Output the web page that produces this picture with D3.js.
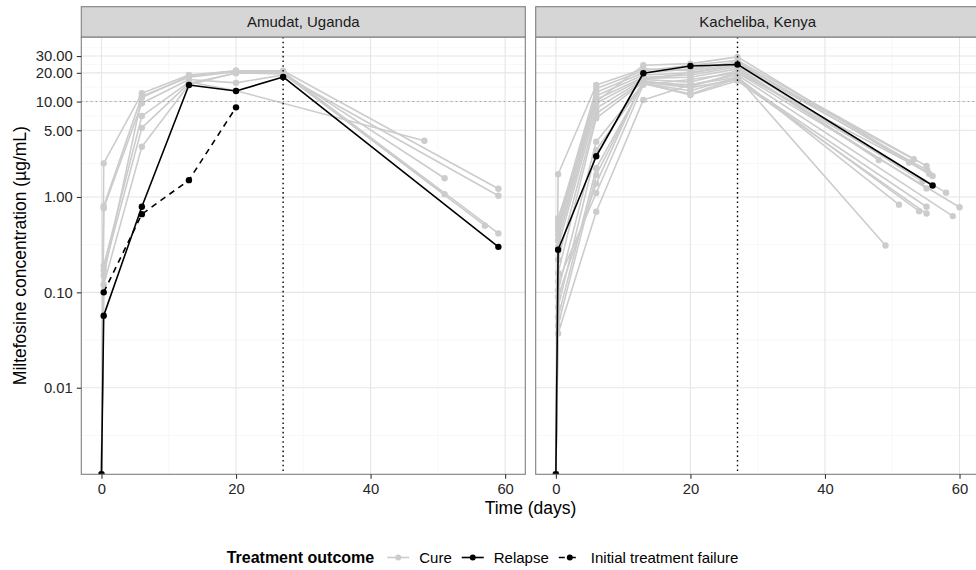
<!DOCTYPE html>
<html>
<head>
<meta charset="utf-8">
<script src="https://cdn.jsdelivr.net/npm/d3@7"></script>
<style>
  body { margin: 0; background: #ffffff; }
  text { font-family: "Liberation Sans", Arial, Helvetica, sans-serif; }
</style>
</head>
<body>
<svg id="chart" width="976" height="570"></svg>
<script>
// ---- Data -----------------------------------------------------------------
const sites = ["Amudat, Uganda", "Kacheliba, Kenya"];
const outcomes = ["Cure", "Relapse", "Initial treatment failure"];

// Common sampling schedule (days); 0 = pre-dose, 0.33 = a few hours post-dose
const sampleDays = [0, 0.33, 6, 13, 20, 27];

// Concentrations (µg/mL) at each scheduled day (null = not sampled),
// followed by the last follow-up sample [day, concentration].
const amudatCure = [
  { conc: [0, 2.25, 12.2, 19.0, 21.0, 21.0], end: [59, 1.22] },
  { conc: [0, 0.80, 11.4, 18.0, 20.5, 20.0], end: [51, 1.57] },
  { conc: [0, 0.76, 9.6, 17.0, 15.7, 19.0], end: [59, 1.03] },
  { conc: [0, 0.19, 7.05, 16.0, 13.0, null], end: [48, 3.88] },
  { conc: [0, 0.17, 5.3, 15.5, 19.8, 20.0], end: [57, 0.50] },
  { conc: [0, 0.12, 3.36, 15.0, 20.0, 19.5], end: [51, 1.07] },
  { conc: [0, 0.15, 11.0, 18.5, 21.0, 20.5], end: [59, 0.415] }
];
const amudatRelapse = [
  { conc: [0, 0.057, 0.79, 14.9, 12.9, 18.1], end: [59, 0.30] }
];
const amudatFailure = [
  { conc: [null, 0.10, 0.66, 1.5, 8.7, null], end: null }
];

const kachelibaCure = [
  { conc: [0, 1.73, 14.9, 22.0, 21.0, 25.0], end: [53.2, 2.48] },
  { conc: [0, 0.55, 13.7, 21.0, 24.0, 27.0], end: [55.1, 2.11] },
  { conc: [0, 0.50, 12.5, 20.0, 22.0, 26.0], end: [56.0, 1.66] },
  { conc: [0, 0.45, 11.5, 19.0, 20.0, 24.0], end: [55.2, 1.91] },
  { conc: [0, 0.40, 10.5, 18.0, 19.0, 23.0], end: [48.0, 2.44] },
  { conc: [0, 0.35, 9.6, 17.5, 18.0, 22.0], end: [55.1, 1.23] },
  { conc: [0, 0.30, 8.5, 17.0, 16.0, 21.0], end: [58.0, 1.11] },
  { conc: [0, 0.22, 7.5, 16.5, 14.3, 20.0], end: [60.0, 0.78] },
  { conc: [0, 0.16, 6.7, 16.0, 15.0, 19.0], end: [59.0, 0.63] },
  { conc: [0, 0.105, 3.8, 15.5, 13.0, 18.0], end: [51.0, 0.83] },
  { conc: [0, 0.07, 3.1, 15.5, 12.0, 17.5], end: [54.0, 0.71] },
  { conc: [0, 0.055, 2.0, 15.5, 11.7, 16.5], end: [55.1, 0.67] },
  { conc: [0, 0.045, 1.7, 16.0, 14.0, 17.0], end: [55.1, 0.79] },
  { conc: [0, 0.037, 0.70, 10.4, 15.0, 18.0], end: [49.0, 0.31] },
  { conc: [0, 0.09, 1.38, 17.0, 20.0, 24.0], end: [54.5, 1.45] },
  { conc: [0, 0.13, 1.1, 15.0, 17.0, 20.0], end: [52.5, 2.30] },
  { conc: [0, 0.60, 10.0, 24.0, 25.0, 29.4], end: [55.5, 1.75] }
];
const kachelibaRelapse = [
  { conc: [0, 0.28, 2.67, 19.8, 23.6, 24.5], end: [56.0, 1.32] }
];
const kachelibaFailure = [];

// Axis breaks and reference lines
const xTicks = [0, 20, 40, 60];
const xMinorTicks = [10, 30, 50];
const yTicks = [0.01, 0.1, 1, 5, 10, 20, 30];
const yLowerLimit = 0.002;      // lower display limit of the concentration axis
const targetConc = 10;          // horizontal reference (µg/mL)
const endOfTreatmentDay = 27;   // vertical reference (day)

// ---- Build series ---------------------------------------------------------
function toSeries(subjects, outcome) {
  return subjects.map(s => {
    const pts = sampleDays.map((d, i) => [d, s.conc[i]]).filter(p => p[1] !== null);
    if (s.end) pts.push(s.end);
    return { outcome, points: pts };
  });
}
const panels = [
  { site: sites[0], series: [
      ...toSeries(amudatCure, outcomes[0]),
      ...toSeries(amudatRelapse, outcomes[1]),
      ...toSeries(amudatFailure, outcomes[2])] },
  { site: sites[1], series: [
      ...toSeries(kachelibaCure, outcomes[0]),
      ...toSeries(kachelibaRelapse, outcomes[1]),
      ...toSeries(kachelibaFailure, outcomes[2])] }
];

// ---- Layout ---------------------------------------------------------------
const svg = d3.select("#chart");
const W = 976, H = 570;
svg.append("rect").attr("width", W).attr("height", H).attr("fill", "#ffffff");

const panelTop = 37, panelBottom = 474.3, panelWidth = 444;
const panelLefts = [81.3, 535.7];
const stripTop = 6.7;

const borderColor = "#7f7f7f";
const gridMajor = "#e6e6e6", gridMinor = "#f3f3f3";
const textColor = "#262626";
const styles = {
  "Cure": { color: "#cccccc", dash: null },
  "Relapse": { color: "#000000", dash: null },
  "Initial treatment failure": { color: "#000000", dash: "6,5" }
};

// Scales: 5 % expansion of the data range, as on a ggplot continuous axis
const allPts = panels.flatMap(p => p.series.flatMap(s => s.points));
const xMax = d3.max(allPts, d => d[0]), xMin = 0;
const xPad = (xMax - xMin) * 0.05;
const x = d3.scaleLinear().domain([xMin - xPad, xMax + xPad]).range([0, panelWidth]);

const yMaxVal = d3.max(allPts, d => d[1]);
const lLo = Math.log10(yLowerLimit), lHi = Math.log10(yMaxVal);
const lPad = (lHi - lLo) * 0.05;
const y = d3.scaleLog()
  .domain([Math.pow(10, lLo - lPad), Math.pow(10, lHi + lPad)])
  .range([panelBottom, panelTop]);
// zero (pre-dose) concentrations sit on the lower panel edge
const yPos = v => (v > 0 ? y(v) : panelBottom);

// Minor breaks: midpoints between major breaks in log space
const logB = yTicks.map(Math.log10);
const minorLog = [logB[0] - (logB[1] - logB[0]) / 2];
for (let i = 0; i < logB.length - 1; i++) minorLog.push((logB[i] + logB[i + 1]) / 2);
minorLog.push(logB[logB.length - 1] + (logB[logB.length - 1] - logB[logB.length - 2]) / 2);
const yDom = y.domain();
const yMinor = minorLog.map(l => Math.pow(10, l)).filter(v => v >= yDom[0] && v <= yDom[1]);

const defs = svg.append("defs");

panels.forEach((panel, pi) => {
  const left = panelLefts[pi];
  const g = svg.append("g").attr("transform", `translate(${left},0)`);

  // clip region for the panel
  defs.append("clipPath").attr("id", `clip${pi}`)
    .append("rect").attr("x", 0).attr("y", panelTop)
    .attr("width", panelWidth).attr("height", panelBottom - panelTop);

  // grid
  const grid = g.append("g");
  grid.selectAll(".ymin").data(yMinor).join("line")
    .attr("x1", 0).attr("x2", panelWidth)
    .attr("y1", d => y(d)).attr("y2", d => y(d))
    .attr("stroke", gridMinor).attr("stroke-width", 0.6);
  grid.selectAll(".xmin").data(xMinorTicks).join("line")
    .attr("x1", d => x(d)).attr("x2", d => x(d))
    .attr("y1", panelTop).attr("y2", panelBottom)
    .attr("stroke", gridMinor).attr("stroke-width", 0.6);
  grid.selectAll(".ymaj").data(yTicks).join("line")
    .attr("x1", 0).attr("x2", panelWidth)
    .attr("y1", d => y(d)).attr("y2", d => y(d))
    .attr("stroke", gridMajor).attr("stroke-width", 1.1);
  grid.selectAll(".xmaj").data(xTicks).join("line")
    .attr("x1", d => x(d)).attr("x2", d => x(d))
    .attr("y1", panelTop).attr("y2", panelBottom)
    .attr("stroke", gridMajor).attr("stroke-width", 1.1);

  const plot = g.append("g").attr("clip-path", `url(#clip${pi})`);
  const line = d3.line().x(d => x(d[0])).y(d => yPos(d[1]));

  function drawSeries(list) {
    list.forEach(s => {
      const st = styles[s.outcome];
      plot.append("path").datum(s.points)
        .attr("d", line).attr("fill", "none")
        .attr("stroke", st.color).attr("stroke-width", 1.6)
        .attr("stroke-linejoin", "round")
        .attr("stroke-dasharray", st.dash);
      plot.append("g").selectAll("circle").data(s.points).join("circle")
        .attr("cx", d => x(d[0])).attr("cy", d => yPos(d[1]))
        .attr("r", 3.2).attr("fill", st.color);
    });
  }
  drawSeries(panel.series.filter(s => s.outcome === "Cure"));

  // reference lines
  plot.append("line")
    .attr("x1", 0).attr("x2", panelWidth)
    .attr("y1", y(targetConc)).attr("y2", y(targetConc))
    .attr("stroke", "#9a9a9a").attr("stroke-width", 1.1)
    .attr("stroke-dasharray", "1.3,3.5");
  plot.append("line")
    .attr("x1", x(endOfTreatmentDay)).attr("x2", x(endOfTreatmentDay))
    .attr("y1", panelTop).attr("y2", panelBottom)
    .attr("stroke", "#000000").attr("stroke-width", 1.4)
    .attr("stroke-dasharray", "1.6,3.1");

  drawSeries(panel.series.filter(s => s.outcome !== "Cure"));

  // panel border
  g.append("rect").attr("x", 0).attr("y", panelTop)
    .attr("width", panelWidth).attr("height", panelBottom - panelTop)
    .attr("fill", "none").attr("stroke", borderColor).attr("stroke-width", 1.1);

  // strip
  g.append("rect").attr("x", 0).attr("y", stripTop)
    .attr("width", panelWidth).attr("height", panelTop - stripTop)
    .attr("fill", "#d6d6d6").attr("stroke", borderColor).attr("stroke-width", 1.1);
  g.append("text").attr("x", panelWidth / 2).attr("y", (stripTop + panelTop) / 2)
    .attr("dy", "0.35em").attr("text-anchor", "middle")
    .attr("font-size", 15).attr("fill", "#1a1a1a").text(panel.site);

  // x axis
  const xa = g.append("g").attr("transform", `translate(0,${panelBottom})`)
    .call(d3.axisBottom(x).tickValues(xTicks).tickFormat(d3.format("d"))
      .tickSize(4.5).tickPadding(4.6));
  xa.select(".domain").remove();
  xa.selectAll(".tick line").attr("stroke", "#333333").attr("stroke-width", 1.1);
  xa.selectAll(".tick text").attr("font-size", 14.8).attr("fill", textColor)
    .attr("font-family", "Liberation Sans, Arial, sans-serif");

  // y axis (left panel only)
  if (pi === 0) {
    const ya = g.append("g")
      .call(d3.axisLeft(y).tickValues(yTicks).tickFormat(d3.format(".2f"))
        .tickSize(4.5).tickPadding(4.1));
    ya.select(".domain").remove();
    ya.selectAll(".tick line").attr("stroke", "#333333").attr("stroke-width", 1.1);
    ya.selectAll(".tick text").attr("font-size", 14.8).attr("fill", textColor)
      .attr("font-family", "Liberation Sans, Arial, sans-serif");
  }
});

// axis titles
svg.append("text")
  .attr("x", (panelLefts[0] + panelLefts[1] + panelWidth) / 2).attr("y", 514)
  .attr("text-anchor", "middle").attr("font-size", 17.5).attr("fill", "#000")
  .text("Time (days)");
svg.append("text")
  .attr("transform", `translate(25.5,${(panelTop + panelBottom) / 2}) rotate(-90)`)
  .attr("text-anchor", "middle").attr("font-size", 17.5).attr("fill", "#000")
  .text("Miltefosine concentration (µg/mL)");

// ---- Legend ---------------------------------------------------------------
const legend = svg.append("g");
const legendBase = 563, keyY = 557.5, keyW = 22;
let lx = 0;
const title = legend.append("text").attr("x", lx).attr("y", legendBase)
  .attr("font-size", 16).attr("font-weight", "bold").attr("fill", "#000")
  .text("Treatment outcome");
lx += title.node().getComputedTextLength() + 13;
outcomes.forEach((o, i) => {
  const st = styles[o];
  legend.append("line").attr("x1", lx).attr("x2", lx + keyW)
    .attr("y1", keyY).attr("y2", keyY)
    .attr("stroke", st.color).attr("stroke-width", 1.6)
    .attr("stroke-dasharray", st.dash);
  legend.append("circle").attr("cx", lx + keyW / 2).attr("cy", keyY)
    .attr("r", 3).attr("fill", st.color);
  lx += keyW + 10;
  const t = legend.append("text").attr("x", lx).attr("y", legendBase)
    .attr("font-size", 15).attr("fill", "#000").text(o);
  lx += t.node().getComputedTextLength() + (i < outcomes.length - 1 ? 10 : 0);
});
legend.attr("transform", `translate(${482.5 - lx / 2},0)`);
</script>
</body>
</html>
